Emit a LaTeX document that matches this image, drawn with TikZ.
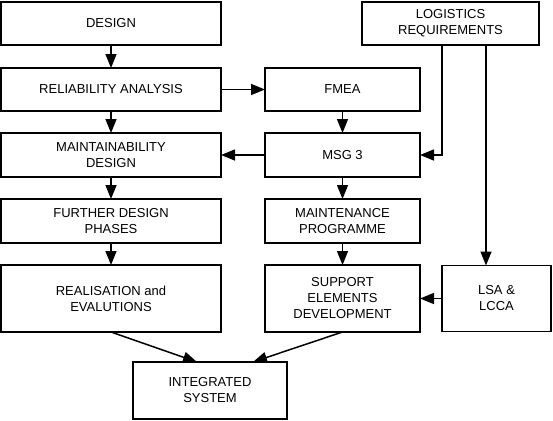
\documentclass[tikz,border=0pt]{standalone}
\usepackage{fontspec}
\setmainfont{Liberation Sans}
\usetikzlibrary{arrows.meta,calc}
\begin{document}
\begin{tikzpicture}[x=1pt,y=-1pt,
  box/.style={draw,line width=1.5pt,align=center,inner sep=0pt,outer sep=0pt,
    font=\fontsize{13}{16}\selectfont},
  arr/.style={line width=1.5pt,-{Triangle[length=14pt,width=11pt]}}]
\useasboundingbox (0,0) rectangle (553,420);
\node[box,minimum width=220pt,minimum height=43pt] (design) at (111,23.5) {DESIGN};
\node[box,minimum width=177pt,minimum height=43pt] (logi) at (450.5,23.5) {LOGISTICS\\REQUIREMENTS};
\node[box,minimum width=220pt,minimum height=43pt] (rel) at (111,89.5) {RELIABILITY ANALYSIS};
\node[box,minimum width=155pt,minimum height=43pt] (fmea) at (342.5,89.5) {FMEA};
\node[box,minimum width=220pt,minimum height=44pt] (maint) at (111,155) {MAINTAINABILITY\\DESIGN};
\node[box,minimum width=155pt,minimum height=44pt] (msg) at (342.5,155) {MSG 3};
\node[box,minimum width=220pt,minimum height=44pt] (further) at (111,221) {FURTHER DESIGN\\PHASES};
\node[box,minimum width=155pt,minimum height=44pt] (mprog) at (342.5,221) {MAINTENANCE\\PROGRAMME};
\node[box,minimum width=220pt,minimum height=67pt] (real) at (111,298.5) {REALISATION and\\EVALUTIONS};
\node[box,minimum width=155pt,minimum height=67pt] (supp) at (342.5,298.5) {SUPPORT\\ELEMENTS\\DEVELOPMENT};
\node[box,minimum width=109pt,minimum height=66pt] (lsa) at (496.5,298.5) {LSA \&\\LCCA};
\node[box,minimum width=154pt,minimum height=57pt] (integ) at (210,390.5) {INTEGRATED\\SYSTEM};
\coordinate (lx) at (486,0);
\coordinate (ia) at (197,0);
\coordinate (ib) at (253,0);
\draw[arr] (design) -- (rel);
\draw[arr] (rel) -- (maint);
\draw[arr] (maint) -- (further);
\draw[arr] (further) -- (real);
\draw[arr] (rel) -- (fmea);
\draw[arr] (fmea) -- (msg);
\draw[arr] (msg) -- (maint);
\draw[arr] (msg) -- (mprog);
\draw[arr] (mprog) -- (supp);
\draw[arr] (lsa) -- (supp);
\draw[arr] (logi.south -| lsa.west) |- (msg.east);
\draw[arr] (logi.south -| lx) -- (lsa.north -| lx);
\draw[arr] (real.south) -- (integ.north -| ia);
\draw[arr] (supp.south) -- (integ.north -| ib);
\end{tikzpicture}
\end{document}
